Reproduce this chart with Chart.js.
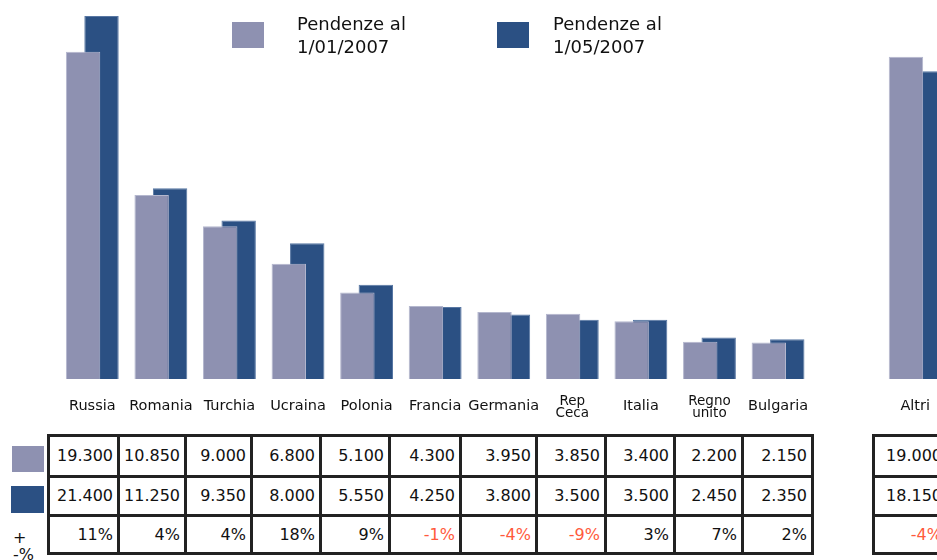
<!DOCTYPE html>
<html lang="it">
<head>
<meta charset="UTF-8">
<title>Pendenze</title>
<script src="https://cdn.jsdelivr.net/npm/chart.js"></script>
<style>
  body {
    margin: 0;
    width: 937px;
    height: 560px;
    overflow: hidden;
    position: relative;
    background: #fff;
    font-family: "DejaVu Sans", Verdana, sans-serif;
    color: #111;
  }
  #chartBox { position: absolute; left: 0; top: 0; width: 952px; height: 425px; }
  .swatch { position: absolute; }
  .legend-text { position: absolute; font-size: 18px; line-height: 23px; white-space: nowrap; }
  .cell {
    position: absolute;
    box-sizing: border-box;
    border: 3px solid #222;
    font-size: 16px;
    text-align: right;
    padding-right: 4px;
    white-space: nowrap;
    overflow: hidden;
  }
  .neg { color: #ff5a3c; }
  .side { position: absolute; font-size: 16px; line-height: 17px; }
</style>
</head>
<body>
<div id="chartBox"><canvas id="chart" width="952" height="425"></canvas></div>

<script>
  // Data
  const categories = ['Russia', 'Romania', 'Turchia', 'Ucraina', 'Polonia', 'Francia', 'Germania',
                      ['Rep', 'Ceca'], 'Italia', ['Regno', 'unito'], 'Bulgaria', '', 'Altri'];
  const pendenzeGen = [19300, 10850, 9000, 6800, 5100, 4300, 3950, 3850, 3400, 2200, 2150, null, 19000];
  const pendenzeMag = [21400, 11250, 9350, 8000, 5550, 4250, 3800, 3500, 3500, 2450, 2350, null, 18150];
  const variazioni = ['11%', '4%', '4%', '18%', '9%', '-1%', '-4%', '-9%', '3%', '7%', '2%', null, '-4%'];
  const seriesNames = [['Pendenze al', '1/01/2007'], ['Pendenze al', '1/05/2007']];

  const colLight = '#8e91b1';
  const colDark = '#2b5083';

  new Chart(document.getElementById('chart'), {
    type: 'bar',
    data: {
      labels: categories,
      datasets: [{
        label: seriesNames[0].join(' '),
        data: pendenzeGen,
        backgroundColor: colLight,
        borderColor: '#b4b7ce',
        borderWidth: 1,
        categoryPercentage: 0.538,
        barPercentage: 1.865
      }, {
        label: seriesNames[1].join(' '),
        data: pendenzeMag,
        backgroundColor: colDark,
        borderColor: '#5877a3',
        borderWidth: 1,
        categoryPercentage: 0.538,
        barPercentage: 1.865
      }]
    },
    options: {
      responsive: false,
      animation: false,
      layout: { padding: { left: 58, right: 0, top: 5, bottom: 0 } },
      plugins: { legend: { display: false }, tooltip: { enabled: false } },
      scales: {
        x: {
          grid: { display: false, drawTicks: false },
          border: { display: false },
          afterFit: function (axis) { axis.height = 46; },
          ticks: {
            autoSkip: false,
            maxRotation: 0,
            minRotation: 0,
            padding: 22,
            crossAlign: 'center',
            color: '#111',
            font: function (c) {
              const multi = Array.isArray(categories[c.index]);
              return { family: 'DejaVu Sans', size: multi ? 13.5 : 14.5, lineHeight: 0.9 };
            }
          }
        },
        y: { display: false, min: 0, max: 22050 }
      }
    }
  });

  // Legend at the top
  const legendPos = [{ sx: 232, tx: 297, color: colLight }, { sx: 497, tx: 553, color: colDark }];
  seriesNames.forEach(function (name, i) {
    const sw = document.createElement('div');
    sw.className = 'swatch';
    sw.style.cssText = 'left:' + legendPos[i].sx + 'px;top:22px;width:32px;height:26px;background:' + legendPos[i].color;
    document.body.appendChild(sw);
    const tx = document.createElement('div');
    tx.className = 'legend-text';
    tx.style.left = legendPos[i].tx + 'px';
    tx.style.top = '12px';
    tx.innerHTML = name[0] + '<br>' + name[1];
    document.body.appendChild(tx);
  });

  // Data table under the bars
  const fmtNum = function (v) {
    const s = String(v);
    return s.length > 3 ? s.slice(0, s.length - 3) + '.' + s.slice(s.length - 3) : s;
  };
  const colEdges = [48, 118, 185, 251, 320, 389, 460, 536, 605, 674, 742, 812];
  const altriEdges = [873, 947];
  const rowEdges = [435, 476, 515, 553];

  function addCell(x0, x1, y0, y1, text, neg) {
    const d = document.createElement('div');
    d.className = 'cell' + (neg ? ' neg' : '');
    d.style.left = (x0 - 1) + 'px';
    d.style.top = (y0 - 1) + 'px';
    d.style.width = (x1 - x0 + 3) + 'px';
    d.style.height = (y1 - y0 + 3) + 'px';
    d.style.lineHeight = (y1 - y0 - 3) + 'px';
    d.textContent = text;
    document.body.appendChild(d);
  }

  function addColumn(idx, x0, x1) {
    addCell(x0, x1, rowEdges[0], rowEdges[1], fmtNum(pendenzeGen[idx]), false);
    addCell(x0, x1, rowEdges[1], rowEdges[2], fmtNum(pendenzeMag[idx]), false);
    addCell(x0, x1, rowEdges[2], rowEdges[3], variazioni[idx], variazioni[idx].charAt(0) === '-');
  }

  for (let i = 0; i < 11; i++) addColumn(i, colEdges[i], colEdges[i + 1]);
  addColumn(12, altriEdges[0], altriEdges[1]);

  // Row keys on the left
  const key1 = document.createElement('div');
  key1.className = 'swatch';
  key1.style.cssText = 'left:12px;top:446px;width:32px;height:26px;background:' + colLight;
  document.body.appendChild(key1);
  const key2 = document.createElement('div');
  key2.className = 'swatch';
  key2.style.cssText = 'left:11px;top:486px;width:33px;height:27px;background:' + colDark;
  document.body.appendChild(key2);
  const key3 = document.createElement('div');
  key3.className = 'side';
  key3.style.left = '13px';
  key3.style.top = '529px';
  key3.innerHTML = '+<br>-%';
  document.body.appendChild(key3);
</script>
</body>
</html>
